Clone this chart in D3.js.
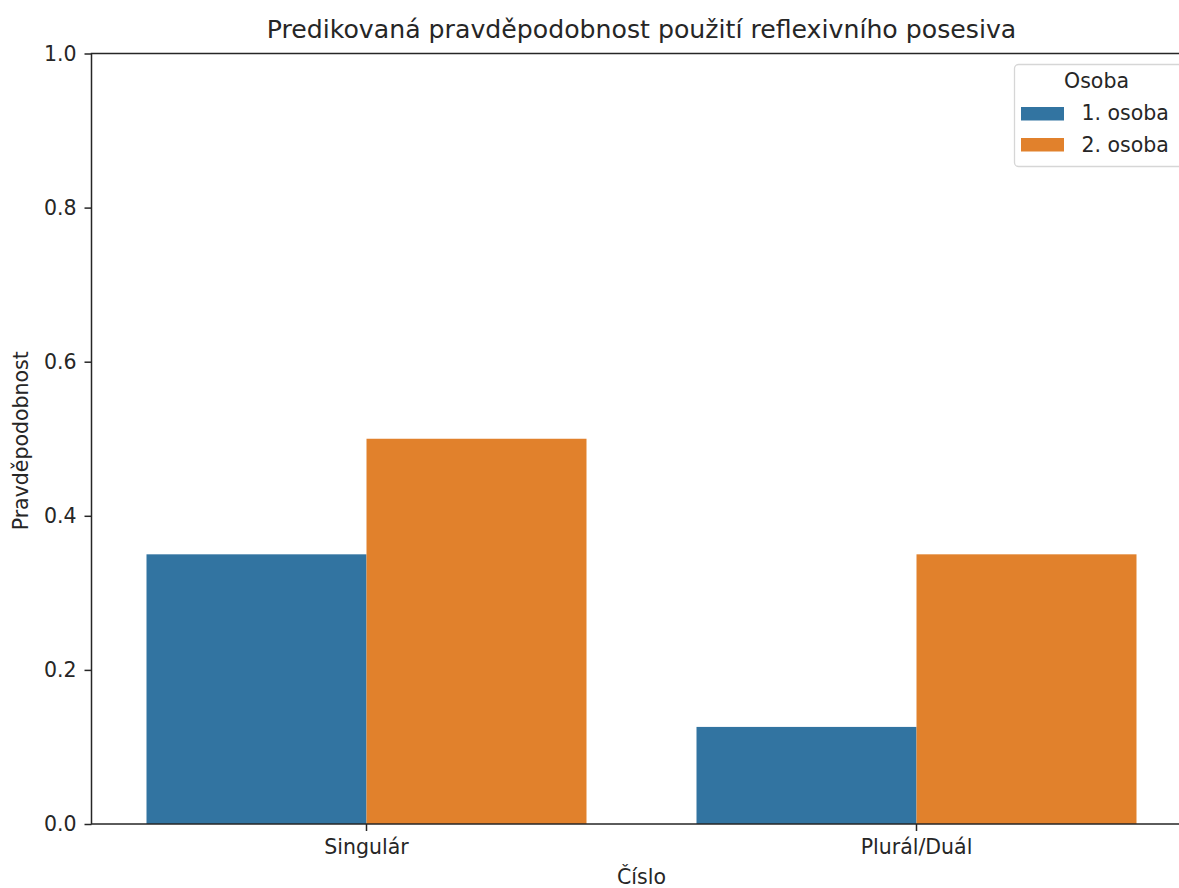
<!DOCTYPE html>
<html>
<head>
<meta charset="utf-8">
<script src="https://cdn.jsdelivr.net/npm/d3@7"></script>
<style>
  body { margin: 0; background: #fff; overflow: hidden; }
  text { font-family: "DejaVu Sans", sans-serif; fill: #262626; }
</style>
</head>
<body>
<script>
var categories = ["Singulár", "Plurál/Duál"];
var osoby = ["1. osoba", "2. osoba"];
var values1 = [0.350, 0.126];   // 1. osoba
var values2 = [0.500, 0.350];   // 2. osoba
var yTicks = [0.0, 0.2, 0.4, 0.6, 0.8, 1.0];
var colors = ["#3274a1", "#e1812c"];

var width = 1179, height = 888;
var margin = { left: 91.5, top: 53.5 };
var plotW = 1100, plotH = 770.5;
var fs = "20.5px";

var svg = d3.select("body").append("svg")
  .attr("width", width)
  .attr("height", height);

var g = svg.append("g").attr("transform", "translate(" + margin.left + "," + margin.top + ")");

var x = d3.scaleBand().domain(categories).range([0, plotW]).paddingInner(0.2).paddingOuter(0.1);
var xCenter = d3.scaleBand().domain(categories).range([0, plotW]);
var xSub = d3.scaleBand().domain(osoby).range([0, x.bandwidth()]);
var y = d3.scaleLinear().domain([0, 1]).range([plotH, 0]);

var rows = [];
categories.forEach(function(c, i) {
  rows.push({ cat: c, osoba: osoby[0], v: values1[i] });
  rows.push({ cat: c, osoba: osoby[1], v: values2[i] });
});

// bars
g.selectAll("rect.bar")
  .data(rows)
  .enter()
  .append("rect")
  .attr("class", "bar")
  .attr("x", function(d) { return x(d.cat) + xSub(d.osoba); })
  .attr("width", xSub.bandwidth())
  .attr("y", function(d) { return y(d.v); })
  .attr("height", function(d) { return plotH - y(d.v); })
  .attr("fill", function(d) { return colors[osoby.indexOf(d.osoba)]; });

// axes
var yAxis = d3.axisLeft(y).tickValues(yTicks).tickFormat(d3.format(".1f")).tickSize(7).tickPadding(8);
var gy = g.append("g").call(yAxis);
gy.select(".domain").remove();
gy.selectAll("line").attr("stroke", "#262626").attr("stroke-width", 1.5);
gy.selectAll("text").style("font-size", fs).attr("fill", "#262626");

var xAxis = d3.axisBottom(xCenter).tickSize(7).tickPadding(8);
var gx = g.append("g").attr("transform", "translate(0," + plotH + ")").call(xAxis);
gx.select(".domain").remove();
gx.selectAll("line").attr("stroke", "#262626").attr("stroke-width", 1.5);
gx.selectAll("text").style("font-size", fs).attr("fill", "#262626");

// spines
g.append("rect")
  .attr("x", 0).attr("y", 0)
  .attr("width", plotW).attr("height", plotH)
  .attr("fill", "none")
  .attr("stroke", "#262626")
  .attr("stroke-width", 1.5);

// title and labels
svg.append("text")
  .attr("x", margin.left + plotW / 2)
  .attr("y", 38)
  .attr("text-anchor", "middle")
  .style("font-size", "25.2px")
  .text("Predikovaná pravděpodobnost použití reflexivního posesiva");

svg.append("text")
  .attr("x", margin.left + plotW / 2)
  .attr("y", 884)
  .attr("text-anchor", "middle")
  .style("font-size", fs)
  .text("Číslo");

svg.append("text")
  .attr("transform", "translate(28," + (margin.top + plotH / 2 + 2) + ") rotate(-90)")
  .attr("text-anchor", "middle")
  .style("font-size", fs)
  .text("Pravděpodobnost");

// legend
var lg = svg.append("g").attr("transform", "translate(1014.5,64.5)");
lg.append("rect")
  .attr("width", 170).attr("height", 102)
  .attr("rx", 4)
  .attr("fill", "#fff").attr("fill-opacity", 0.8)
  .attr("stroke", "#d6d6d6").attr("stroke-width", 1.3);
lg.append("text")
  .attr("x", 82).attr("y", 23)
  .attr("text-anchor", "middle")
  .style("font-size", fs)
  .text("Osoba");
osoby.forEach(function(o, i) {
  lg.append("rect")
    .attr("x", 6.5).attr("y", 42.5 + i * 31)
    .attr("width", 43).attr("height", 13.5)
    .attr("fill", colors[i]);
  lg.append("text")
    .attr("x", 67).attr("y", 55.5 + i * 31.5)
    .style("font-size", fs)
    .text(o);
});
</script>
</body>
</html>
